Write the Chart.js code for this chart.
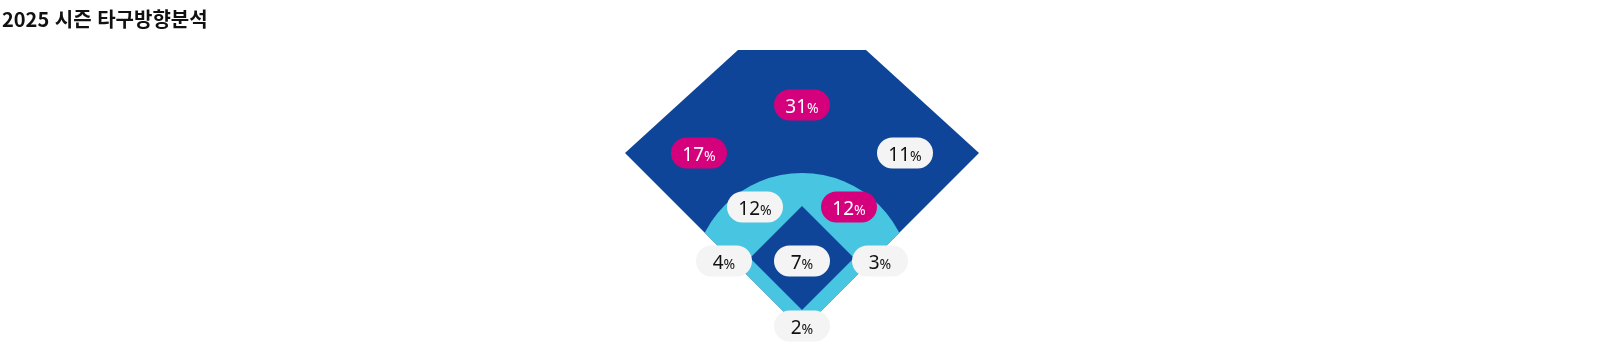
<!DOCTYPE html>
<html lang="ko">
<head>
<meta charset="utf-8">
<title>2025 시즌 타구방향분석</title>
<script src="https://cdn.jsdelivr.net/npm/chart.js@4.4.1/dist/chart.umd.min.js"></script>
<style>
  html, body { margin: 0; padding: 0; background: #fff; }
  #wrap { position: relative; width: 1610px; height: 360px; }
  #title { position: absolute; left: 2px; top: 9px; margin: 0; font: bold 20px/20px "Noto Sans CJK KR", sans-serif; color: #111; }
  canvas { position: absolute; left: 0; top: 0; }
</style>
</head>
<body>
<div id="wrap">
  <canvas id="sprayChart" width="1610" height="360"></canvas>
  <h3 id="title">2025 시즌 타구방향분석</h3>
</div>
<script>
// 타구방향 데이터
var zones = ['좌익수', '중견수', '우익수', '유격수', '2루수', '3루수', '투수', '1루수', '포수'];
var percents = [17, 31, 11, 12, 12, 4, 7, 3, 2];
var highlight = [true, true, false, false, true, false, false, false, false];

// field layout (units: home plate = 0,0, y up)
var zoneSpot = {
    '좌익수': [-103, 177], '중견수': [0, 225], '우익수': [103, 177],
    '유격수': [-47, 123], '2루수': [47, 123],
    '3루수': [-78, 69], '투수': [0, 69], '1루수': [78, 69],
    '포수': [0, 4]
};
var outfield = [[0, 0], [-177, 177], [-64, 280], [64, 280], [177, 177]];
var infield = [[0, 20], [-52, 72], [0, 124], [52, 72]];
var dirt = { x: 0, y: 48, r: 109 };

var DARK = '#0e4599', LIGHT = '#48c5e1', PINK = '#d5007b', GREY = '#f4f4f4';

function tracePoly(c, sx, sy, pts) {
    c.beginPath();
    pts.forEach(function (p, i) {
        var px = sx.getPixelForValue(p[0]), py = sy.getPixelForValue(p[1]);
        if (i === 0) c.moveTo(px, py); else c.lineTo(px, py);
    });
    c.closePath();
}

var fieldPlugin = {
    id: 'field',
    beforeDatasetsDraw: function (chart) {
        var c = chart.ctx, sx = chart.scales.x, sy = chart.scales.y;
        c.save();
        tracePoly(c, sx, sy, outfield);
        c.fillStyle = DARK;
        c.fill();
        c.clip();
        // 내야 흙
        var cx = sx.getPixelForValue(dirt.x), cy = sy.getPixelForValue(dirt.y);
        var r = sx.getPixelForValue(dirt.r) - sx.getPixelForValue(0);
        c.beginPath();
        c.arc(cx, cy, r, 0, Math.PI * 2);
        c.fillStyle = LIGHT;
        c.fill();
        c.restore();
        tracePoly(c, sx, sy, infield);
        c.fillStyle = DARK;
        c.fill();
    }
};

var pillPlugin = {
    id: 'pills',
    afterDatasetsDraw: function (chart) {
        var c = chart.ctx;
        var meta = chart.getDatasetMeta(0);
        meta.data.forEach(function (pt, i) {
            var w = 56, h = 31;
            c.save();
            c.beginPath();
            c.roundRect(pt.x - w / 2, pt.y - h / 2, w, h, h / 2);
            c.fillStyle = highlight[i] ? PINK : GREY;
            c.fill();
            var num = String(percents[i]);
            c.font = '19px "Noto Sans", sans-serif';
            var w1 = c.measureText(num).width;
            c.font = '14px "Noto Sans", sans-serif';
            var w2 = c.measureText('%').width;
            var x0 = pt.x - (w1 + w2) / 2;
            c.fillStyle = highlight[i] ? '#ffffff' : '#111111';
            c.textBaseline = 'alphabetic';
            c.textAlign = 'left';
            c.font = '19px "Noto Sans", sans-serif';
            c.fillText(num, x0, pt.y + 8);
            c.font = '14px "Noto Sans", sans-serif';
            c.fillText('%', x0 + w1, pt.y + 8);
            c.restore();
        });
    }
};

var ctx = document.getElementById('sprayChart').getContext('2d');
var sprayChart = new Chart(ctx, {
    type: 'scatter',
    data: {
        datasets: [{
            label: '타구 비율',
            data: zones.map(function (z, i) {
                return { x: zoneSpot[z][0], y: zoneSpot[z][1], v: percents[i] };
            }),
            pointRadius: 0,
            pointHoverRadius: 0
        }]
    },
    options: {
        responsive: false,
        animation: false,
        events: [],
        layout: { padding: 0 },
        plugins: {
            legend: { display: false },
            tooltip: { enabled: false }
        },
        scales: {
            x: { type: 'linear', min: -802, max: 808, display: false },
            y: { type: 'linear', min: -30, max: 330, display: false }
        }
    },
    plugins: [fieldPlugin, pillPlugin]
});
</script>
</body>
</html>
